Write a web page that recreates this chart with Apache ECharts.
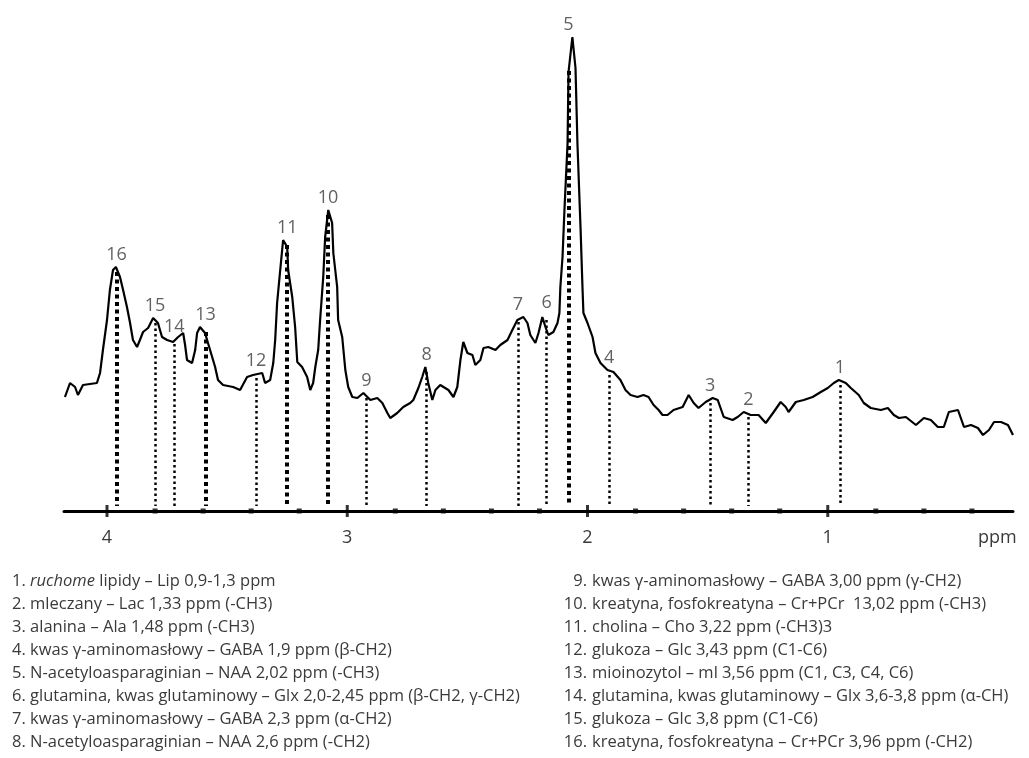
<!DOCTYPE html>
<html>
<head>
<meta charset="utf-8">
<script src="https://cdn.jsdelivr.net/npm/echarts@6/dist/echarts.min.js"></script>
<style>
  html, body { margin: 0; padding: 0; background: #fff; }
  #spectrum { width: 1029px; height: 758px; }
</style>
</head>
<body>
<div id="spectrum"></div>
<script>
// widmo MRS - ppm (oś odwrócona) i intensywność sygnału
const ppm = [4.175, 4.154, 4.133, 4.121, 4.100, 4.042, 4.029, 4.017, 4.000, 3.988, 3.975, 3.963, 3.946, 3.933, 3.917, 3.904,
  3.892, 3.875, 3.863, 3.850, 3.829, 3.808, 3.788, 3.771, 3.750, 3.725, 3.704, 3.683, 3.675, 3.667, 3.646, 3.633,
  3.625, 3.613, 3.592, 3.571, 3.550, 3.538, 3.517, 3.475, 3.446, 3.417, 3.392, 3.354, 3.342, 3.321, 3.308, 3.300,
  3.292, 3.279, 3.267, 3.250, 3.246, 3.229, 3.217, 3.208, 3.188, 3.167, 3.154, 3.142, 3.133, 3.121, 3.113, 3.100,
  3.092, 3.079, 3.063, 3.058, 3.042, 3.038, 3.021, 3.008, 2.996, 2.979, 2.958, 2.933, 2.904, 2.875, 2.854, 2.833,
  2.821, 2.792, 2.767, 2.738, 2.725, 2.704, 2.688, 2.675, 2.663, 2.646, 2.633, 2.613, 2.579, 2.558, 2.542, 2.529,
  2.517, 2.500, 2.479, 2.467, 2.446, 2.433, 2.413, 2.383, 2.363, 2.333, 2.313, 2.292, 2.267, 2.250, 2.238, 2.217,
  2.204, 2.188, 2.175, 2.163, 2.142, 2.125, 2.117, 2.113, 2.104, 2.096, 2.083, 2.079, 2.063, 2.050, 2.042, 2.029,
  2.021, 2.017, 2.000, 1.979, 1.967, 1.946, 1.917, 1.892, 1.863, 1.842, 1.821, 1.792, 1.767, 1.746, 1.725, 1.704,
  1.688, 1.667, 1.642, 1.604, 1.579, 1.558, 1.538, 1.508, 1.479, 1.458, 1.433, 1.396, 1.375, 1.350, 1.321, 1.288,
  1.258, 1.225, 1.196, 1.175, 1.163, 1.133, 1.100, 1.063, 1.029, 1.000, 0.975, 0.954, 0.925, 0.904, 0.871, 0.850,
  0.821, 0.779, 0.750, 0.725, 0.704, 0.675, 0.633, 0.600, 0.571, 0.542, 0.517, 0.496, 0.458, 0.433, 0.404, 0.375,
  0.354, 0.329, 0.308, 0.279, 0.250, 0.229];
const intensity = [114, 128, 124, 116, 126, 128, 138, 161, 191, 221, 241, 244, 234, 221, 204, 188,
  171, 164, 171, 179, 183, 193, 188, 174, 171, 169, 174, 178, 166, 151, 148, 161,
  178, 184, 178, 161, 144, 131, 126, 124, 121, 134, 136, 138, 128, 131, 148, 171,
  208, 241, 271, 264, 241, 214, 184, 149, 144, 134, 121, 128, 144, 161, 191, 234,
  274, 301, 288, 258, 224, 191, 174, 141, 124, 114, 113, 118, 111, 113, 108, 98,
  93, 98, 104, 108, 111, 123, 134, 144, 128, 111, 121, 126, 121, 114, 124, 151,
  169, 158, 156, 146, 151, 163, 164, 161, 166, 171, 181, 191, 194, 188, 176, 168,
  178, 194, 184, 176, 179, 188, 198, 224, 254, 301, 368, 439, 474, 443, 368, 283,
  224, 198, 188, 174, 158, 148, 141, 139, 131, 121, 116, 114, 116, 114, 106, 101,
  96, 96, 101, 104, 116, 108, 103, 109, 113, 111, 94, 91, 94, 99, 96, 96,
  88, 99, 109, 104, 99, 109, 111, 114, 119, 123, 128, 131, 128, 123, 116, 108,
  103, 101, 103, 96, 93, 94, 86, 93, 91, 84, 84, 99, 101, 84, 86, 83,
  76, 81, 89, 89, 86, 76];

// oznaczone piki
const peakNo = [1, 2, 3, 4, 5, 6, 7, 8, 9, 10, 11, 12, 13, 14, 15, 16];
const peakPpm = [0.95, 1.33, 1.49, 1.91, 2.08, 2.17, 2.29, 2.67, 2.92, 3.08, 3.25, 3.38, 3.59, 3.72, 3.80, 3.96];
const peakHeight = [131, 99, 113, 141, 474, 196, 194, 144, 118, 301, 271, 138, 184, 172, 193, 244];
const peakNames = [
  '{i|ruchome} lipidy – Lip 0,9-1,3 ppm',
  'mleczany – Lac 1,33 ppm (-CH3)',
  'alanina – Ala 1,48 ppm (-CH3)',
  'kwas γ-aminomasłowy – GABA 1,9 ppm (β-CH2)',
  'N-acetyloasparaginian – NAA 2,02 ppm (-CH3)',
  'glutamina, kwas glutaminowy – Glx 2,0-2,45 ppm (β-CH2, γ-CH2)',
  'kwas γ-aminomasłowy – GABA 2,3 ppm (α-CH2)',
  'N-acetyloasparaginian – NAA 2,6 ppm (-CH2)',
  'kwas γ-aminomasłowy – GABA 3,00 ppm (γ-CH2)',
  'kreatyna, fosfokreatyna – Cr+PCr  13,02 ppm (-CH3)',
  'cholina – Cho 3,22 ppm (-CH3)3',
  'glukoza – Glc 3,43 ppm (C1-C6)',
  'mioinozytol – ml 3,56 ppm (C1, C3, C4, C6)',
  'glutamina, kwas glutaminowy – Glx 3,6-3,8 ppm (α-CH)',
  'glukoza – Glc 3,8 ppm (C1-C6)',
  'kreatyna, fosfokreatyna – Cr+PCr 3,96 ppm (-CH2)'
];

// podziałka osi
const majorTicks = [4, 3, 2, 1];
const minorTicks = [3.8, 3.6, 3.4, 3.2, 2.8, 2.6, 2.4, 2.2, 1.8, 1.6, 1.4, 1.2, 0.8, 0.6, 0.4];

const thickPeaks = [5, 10, 11, 13, 16];
const FONT = '"Open Sans", "Noto Sans", sans-serif';
const TXT = '#3a3a3a';
const LEG_SIZE = 16.5;

const chart = echarts.init(document.getElementById('spectrum'), null, { renderer: 'canvas' });

const dropLines = peakPpm.map((p, i) => {
  const thick = thickPeaks.indexOf(peakNo[i]) >= 0;
  return [
    {
      coord: [p, peakHeight[i] - (peakNo[i] === 5 ? 34 : 5)],
      lineStyle: { color: '#000', width: thick ? 4 : 2.5, type: thick ? [4, 3.5] : [2.5, 3] }
    },
    { coord: [p, 5] }
  ];
});

// legenda pod wykresem
const legend = [];
peakNames.forEach((name, i) => {
  const row = i % 8;
  const y = 581 + row * 23;
  const rich = { i: { fontStyle: 'italic', fontSize: LEG_SIZE, fontFamily: FONT, fill: TXT } };
  if (i < 8) {
    legend.push({
      type: 'text', x: 12, y: y,
      style: { text: peakNo[i] + '. ' + name, fill: TXT, font: LEG_SIZE + 'px ' + FONT, textVerticalAlign: 'middle', rich: rich }
    });
  } else {
    legend.push({
      type: 'text', x: 587, y: y,
      style: { text: peakNo[i] + '.', fill: TXT, font: LEG_SIZE + 'px ' + FONT, textAlign: 'right', textVerticalAlign: 'middle' }
    });
    legend.push({
      type: 'text', x: 592, y: y,
      style: { text: name, fill: TXT, font: LEG_SIZE + 'px ' + FONT, textVerticalAlign: 'middle', rich: rich }
    });
  }
});
legend.push({
  type: 'text', x: 978, y: 538,
  style: { text: 'ppm', fill: TXT, font: '18px ' + FONT, textVerticalAlign: 'middle' }
});

const option = {
  animation: false,
  backgroundColor: '#fff',
  grid: { left: 64, right: 16, top: 11, bottom: 247 },
  xAxis: {
    type: 'value',
    inverse: true,
    min: 0.229,
    max: 4.179,
    splitLine: { show: false },
    axisLine: { show: true, onZero: false, lineStyle: { color: '#000', width: 3 } },
    axisTick: { show: false },
    axisLabel: {
      customValues: majorTicks,
      margin: 18,
      fontSize: 18,
      fontFamily: FONT,
      color: TXT,
      formatter: v => String(Math.round(v))
    }
  },
  yAxis: { type: 'value', min: 0, max: 500, show: false },
  graphic: legend,
  series: [
    {
      type: 'line',
      data: ppm.map((p, i) => [p, intensity[i]]),
      showSymbol: false,
      symbol: 'none',
      lineStyle: { color: '#000', width: 2.2 },
      z: 3,
      markLine: {
        silent: true,
        symbol: ['none', 'none'],
        label: { show: false },
        data: dropLines
      }
    },
    {
      type: 'scatter',
      data: peakPpm.map((p, i) => ({ value: [p, peakHeight[i]], name: String(peakNo[i]) })),
      symbolSize: 0,
      label: {
        show: true,
        position: 'top',
        distance: 3,
        formatter: '{b}',
        fontSize: 18,
        fontFamily: FONT,
        color: TXT
      },
      z: 4
    },
    {
      type: 'scatter',
      data: majorTicks.map(t => [t, 0]),
      symbol: 'rect',
      symbolSize: [3, 12],
      itemStyle: { color: '#000' },
      clip: false,
      z: 5
    },
    {
      type: 'scatter',
      data: minorTicks.map(t => [t, 0]),
      symbol: 'rect',
      symbolSize: 5,
      itemStyle: { color: '#000' },
      clip: false,
      z: 5
    }
  ]
};

chart.setOption(option);
</script>
</body>
</html>
